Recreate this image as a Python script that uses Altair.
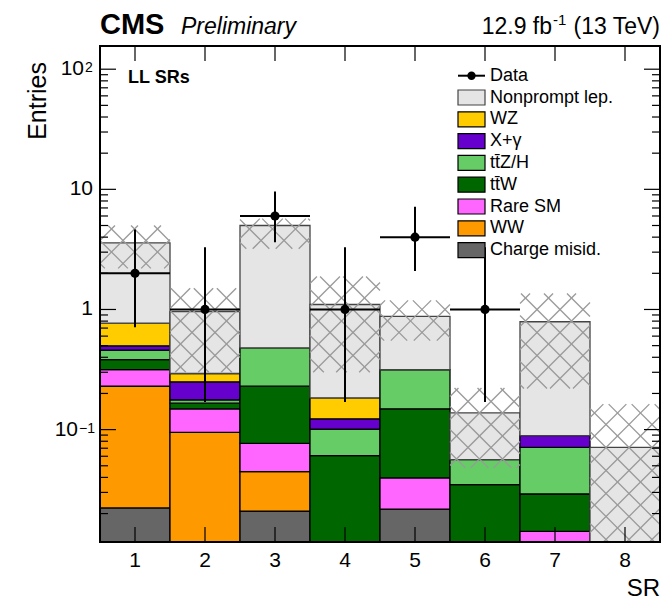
import math
import altair as alt
import pandas as pd

# ---- signal regions and expected yields (stack order: bottom -> top) ----
regions = [1, 2, 3, 4, 5, 6, 7, 8]

charge_misid = [0.0223, 0.0, 0.021, 0.0, 0.0218, 0.0, 0.0, 0.0]
ww = [0.2073, 0.095, 0.0237, 0.0, 0.0, 0.0, 0.0, 0.0]
rare_sm = [0.0864, 0.054, 0.0322, 0.0, 0.0178, 0.0, 0.0142, 0.0]
ttw = [0.067, 0.017, 0.153, 0.0607, 0.1094, 0.0348, 0.0149, 0.0]
ttzh = [0.075, 0.011, 0.25, 0.0403, 0.166, 0.0214, 0.0421, 0.0]
x_gamma = [0.04, 0.073, 0.0, 0.022, 0.0, 0.0, 0.0178, 0.0]
wz = [0.271, 0.043, 0.0, 0.061, 0.0, 0.0, 0.0, 0.0]
nonprompt = [2.82, 0.667, 4.52, 0.916, 0.56, 0.0818, 0.701, 0.0712]

# total background uncertainty band
unc_low = [2.2, 0.30, 3.2, 0.30, 0.55, 0.048, 0.22, 0.001]
unc_high = [5.0, 1.5, 5.7, 1.88, 1.19, 0.222, 1.36, 0.163]

# observed data with Poisson intervals
data_regions = [1, 2, 3, 4, 5, 6]
data_counts = [2, 1, 6, 1, 4, 1]
data_low = [0.71, 0.17, 3.62, 0.17, 2.09, 0.17]
data_high = [4.64, 3.30, 9.58, 3.30, 7.16, 3.30]

# process names and fill colours, bottom -> top
stack_names = ["Charge misid.", "WW", "Rare SM", "tt\u0304W", "tt\u0304Z/H", "X+\u03b3", "WZ", "Nonprompt lep."]
stack_values = [charge_misid, ww, rare_sm, ttw, ttzh, x_gamma, wz, nonprompt]
stack_colors = ["#666666", "#ff9900", "#ff66ff", "#006600", "#66cc66", "#6600cc", "#ffcc00", "#e5e5e5"]

# axis ticks / labels
x_ticks = regions
y_major = [0.1, 1, 10, 100]
y_label_base = ["10", "1", "10", "10"]
y_label_exp = ["\u22121", "", "", "2"]

Y_MIN, Y_MAX = 0.0116, 156.0
W, H = 560, 496
FONT = "Liberation Sans"

x_scale = alt.Scale(domain=[0.5, 8.5], nice=False, zero=False)
y_scale = alt.Scale(type="log", domain=[Y_MIN, Y_MAX], nice=False)

# ---- stacked histogram boxes ----
rows = []
for i, r in enumerate(regions):
    base = 0.0
    for name, vals in zip(stack_names, stack_values):
        v = vals[i]
        if v <= 0:
            continue
        rows.append(dict(process=name, x0=r - 0.5, x1=r + 0.5,
                         lo=max(base, 1e-4), hi=base + v))
        base += v
stack_df = pd.DataFrame(rows)

bars = alt.Chart(stack_df).mark_rect(clip=True, strokeWidth=1.3).encode(
    x=alt.X("x0:Q", scale=x_scale, axis=None),
    x2="x1:Q",
    y=alt.Y("lo:Q", scale=y_scale, axis=None),
    y2="hi:Q",
    fill=alt.Fill("process:N", scale=alt.Scale(domain=stack_names, range=stack_colors), legend=None),
    stroke=alt.condition(alt.datum.process == "Nonprompt lep.", alt.value("#444444"), alt.value("black")),
)

# ---- cross-hatched uncertainty band (45 degree lines in screen space) ----
PX_X = W / 8.0
PX_Y = H / (math.log10(Y_MAX) - math.log10(Y_MIN))
SPACING = 23.0
segs = []
for i, r in enumerate(regions):
    u0, u1 = (r - 1) * PX_X, r * PX_X
    vlo = math.log10(max(unc_low[i], Y_MIN)) * PX_Y
    vhi = math.log10(unc_high[i]) * PX_Y
    for sign in (1, -1):
        cs = [vlo - sign * u0, vlo - sign * u1, vhi - sign * u0, vhi - sign * u1]
        for k in range(math.floor(min(cs) / SPACING), math.ceil(max(cs) / SPACING) + 1):
            c = k * SPACING
            if sign == 1:
                ua, ub = vlo - c, vhi - c
            else:
                ua, ub = c - vhi, c - vlo
            ua, ub = max(ua, u0), min(ub, u1)
            if ub - ua < 0.5:
                continue
            va, vb = sign * ua + c, sign * ub + c
            segs.append(dict(xa=ua / PX_X + 0.5, xb=ub / PX_X + 0.5,
                             ya=10 ** (va / PX_Y), yb=10 ** (vb / PX_Y)))
hatch_df = pd.DataFrame(segs)

hatch = alt.Chart(hatch_df).mark_rule(clip=True, color="#9a9a9a", strokeWidth=1.3).encode(
    x=alt.X("xa:Q", scale=x_scale, axis=None),
    x2="xb:Q",
    y=alt.Y("ya:Q", scale=y_scale, axis=None),
    y2="yb:Q",
)

# ---- data points ----
data_df = pd.DataFrame(dict(region=data_regions, count=data_counts, low=data_low, high=data_high))
data_df["left"] = data_df["region"] - 0.5
data_df["right"] = data_df["region"] + 0.5

data_v = alt.Chart(data_df).mark_rule(color="black", strokeWidth=2).encode(
    x=alt.X("region:Q", scale=x_scale, axis=None),
    y=alt.Y("low:Q", scale=y_scale, axis=None),
    y2="high:Q",
)
data_h = alt.Chart(data_df).mark_rule(color="black", strokeWidth=2).encode(
    x=alt.X("left:Q", scale=x_scale, axis=None),
    x2="right:Q",
    y=alt.Y("count:Q", scale=y_scale, axis=None),
)
data_pt = alt.Chart(data_df).mark_circle(color="black", opacity=1, size=85).encode(
    x=alt.X("region:Q", scale=x_scale, axis=None),
    y=alt.Y("count:Q", scale=y_scale, axis=None),
)

# ---- ticks (drawn inside the frame on all four sides) ----
y_minor = [m * 10.0 ** e for e in range(-2, 3) for m in range(2, 10)
           if Y_MIN <= m * 10.0 ** e <= Y_MAX]
ymaj_df = pd.DataFrame(dict(v=y_major))
ymin_df = pd.DataFrame(dict(v=y_minor))
xt_df = pd.DataFrame(dict(t=x_ticks))


def ytick(df, x0, x1):
    return alt.Chart(df).mark_rule(color="black", strokeWidth=1.2).encode(
        x=alt.value(x0), x2=alt.value(x1),
        y=alt.Y("v:Q", scale=y_scale, axis=None),
    )


def xtick(y0, y1):
    return alt.Chart(xt_df).mark_rule(color="black", strokeWidth=1.2).encode(
        x=alt.X("t:Q", scale=x_scale, axis=None),
        y=alt.value(y0), y2=alt.value(y1),
    )


ticks = [
    ytick(ymaj_df, 0, 16), ytick(ymin_df, 0, 8),
    ytick(ymaj_df, W, W - 16), ytick(ymin_df, W, W - 8),
    xtick(H, H - 15), xtick(0, 15),
]

# ---- tick labels ----
xlab = alt.Chart(xt_df).mark_text(font=FONT, fontSize=21, baseline="top", color="black").encode(
    x=alt.X("t:Q", scale=x_scale, axis=None),
    y=alt.value(H + 8),
    text=alt.Text("t:Q"),
)

ylab_df = pd.DataFrame(dict(v=y_major, base=y_label_base, exp=y_label_exp))
ylab_df["anchor"] = [(-10 - 6 * len(e)) if e else -7 for e in y_label_exp]
ylab_df["sup_x"] = ylab_df["anchor"] + 1
ylab = alt.Chart(ylab_df).mark_text(font=FONT, fontSize=21, align="right", baseline="middle", color="black").encode(
    x=alt.X("anchor:Q", scale=None),
    y=alt.Y("v:Q", scale=y_scale, axis=None),
    text="base:N",
)
ysup = alt.Chart(ylab_df[ylab_df["exp"] != ""]).mark_text(
    font=FONT, fontSize=14, align="left", baseline="alphabetic", dy=3, color="black"
).encode(
    x=alt.X("sup_x:Q", scale=None),
    y=alt.Y("v:Q", scale=y_scale, axis=None),
    text="exp:N",
)

# ---- frame ----
frame = alt.Chart(pd.DataFrame(dict(a=[0]))).mark_rect(
    fillOpacity=0, stroke="black", strokeWidth=2
).encode(x=alt.value(0), x2=alt.value(W), y=alt.value(0), y2=alt.value(H))


def label(text, x, y, size, weight="normal", style="normal", align="left",
          baseline="alphabetic", angle=0):
    return alt.Chart(pd.DataFrame(dict(t=[text]))).mark_text(
        font=FONT, fontSize=size, fontWeight=weight, fontStyle=style,
        align=align, baseline=baseline, angle=angle, color="black",
    ).encode(x=alt.value(x), y=alt.value(y), text="t:N")


texts = [
    label("CMS", 0, -12, 29, weight="bold"),
    label("Preliminary", 81, -12, 23, style="italic"),
    label("12.9 fb", 452, -12, 23, align="right"),
    label("-1", 453, -21, 15),
    label("(13 TeV)", 560, -12, 23, align="right"),
    label("Entries", -62, 16, 25, align="right", baseline="middle", angle=270),
    label("SR", 560, 550, 24, align="right"),
    label("LL SRs", 28, 32, 18, weight="bold", baseline="middle"),
]

# ---- legend ----
legend_labels = ["Nonprompt lep.", "WZ", "X+\u03b3", "tt\u0304Z/H", "tt\u0304W", "Rare SM", "WW", "Charge misid."]
ROW0, ROW_STEP = 29.7, 21.8
leg_df = pd.DataFrame(dict(process=legend_labels))
leg_df["yc"] = [ROW0 + ROW_STEP * (i + 1) for i in range(len(legend_labels))]
leg_df["y0"] = leg_df["yc"] - 7.5
leg_df["y1"] = leg_df["yc"] + 7.5

leg_box = alt.Chart(leg_df).mark_rect(strokeWidth=1.2).encode(
    x=alt.value(358), x2=alt.value(385),
    y=alt.Y("y0:Q", scale=None), y2="y1:Q",
    fill=alt.Fill("process:N", scale=alt.Scale(domain=stack_names, range=stack_colors), legend=None),
    stroke=alt.condition(alt.datum.process == "Nonprompt lep.", alt.value("#444444"), alt.value("black")),
)
leg_txt = alt.Chart(leg_df).mark_text(font=FONT, fontSize=18, align="left", baseline="middle", color="black").encode(
    x=alt.value(390), y=alt.Y("yc:Q", scale=None), text="process:N",
)
leg_data_line = alt.Chart(pd.DataFrame(dict(a=[0]))).mark_rule(color="black", strokeWidth=2).encode(
    x=alt.value(358), x2=alt.value(385), y=alt.value(ROW0),
)
leg_data_pt = alt.Chart(pd.DataFrame(dict(a=[0]))).mark_circle(color="black", opacity=1, size=70).encode(
    x=alt.value(371.5), y=alt.value(ROW0),
)
leg_data_txt = label("Data", 390, ROW0, 18, baseline="middle")

chart = alt.layer(
    bars, hatch, data_v, data_h, data_pt,
    *ticks, xlab, ylab, ysup, frame, *texts,
    leg_box, leg_txt, leg_data_line, leg_data_pt, leg_data_txt,
).resolve_scale(
    x="independent", y="independent", fill="shared"
).properties(
    width=W, height=H,
    autosize=alt.AutoSizeParams(type="none"),
    padding={"left": 100, "top": 46, "right": 6, "bottom": 61},
).configure_view(strokeWidth=0)

chart.save("out.html", embed_options={"renderer": "svg", "actions": False})
